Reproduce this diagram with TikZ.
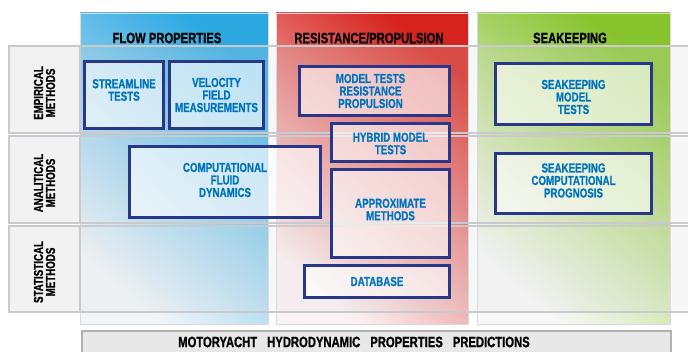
\documentclass[tikz,border=0pt]{standalone}
\usepackage{fontspec}
\newfontfamily\cond[FakeStretch=0.75,FakeBold=0.8]{Liberation Sans}
\usetikzlibrary{positioning}
\definecolor{boxblue}{RGB}{0,115,190}
\definecolor{navy}{RGB}{40,55,135}
\definecolor{flowdark}{RGB}{45,168,225}
\definecolor{flowlight}{RGB}{242,245,248}
\definecolor{resdark}{RGB}{215,35,30}
\definecolor{reslight}{RGB}{250,242,244}
\definecolor{seadark}{RGB}{135,195,45}
\definecolor{sealight}{RGB}{248,248,248}
\definecolor{rowgray}{RGB}{200,202,205}

\begin{document}
\begin{tikzpicture}[
    x=1pt, y=-1pt,
    column/.style={shading=axis, shading angle=-40, draw=rowgray!70, line width=0.8},
    rowband/.style={fill=gray!25, fill opacity=0.22, draw=rowgray, line width=1.5},
    rowcell/.style={fill=gray!10, draw=rowgray, line width=1.5},
    rowlabel/.style={rotate=90, align=center, font=\cond\bfseries\fontsize{13}{12}\selectfont},
    header/.style={font=\cond\bfseries\fontsize{15}{15}\selectfont},
    method/.style={rectangle, draw=navy, line width=2.8, fill=white, fill opacity=0.62, inner sep=0pt},
    boxtext/.style={align=center, text=boxblue, inner sep=0pt, font=\cond\bfseries\fontsize{13}{12.5}\selectfont},
    result/.style={rectangle, draw=gray!60, line width=2.2, fill=gray!18, inner sep=0pt},
]
\useasboundingbox (0,0) rectangle (688,352);
\clip (0,0) rectangle (688,352);
\fill[white] (0,0) rectangle (688,352);

% Property columns
\shade[column, top color=flowdark, bottom color=flowlight, shading angle=-40] (80,13) rectangle (268,324);
\shade[column, top color=resdark, bottom color=reslight, shading angle=-40] (276,13) rectangle (468,324);
\shade[column, top color=seadark, bottom color=sealight, shading angle=-40] (477,13) rectangle (670,324);

% Method rows
\draw[rowband] (9,46) rectangle (700,133);
\draw[rowband] (9,136) rectangle (700,223);
\draw[rowband] (9,226) rectangle (700,312);
\draw[rowcell] (9,46) rectangle (80,133);
\draw[rowcell] (9,136) rectangle (80,223);
\draw[rowcell] (9,226) rectangle (80,312);

% Row labels
\node[rowlabel] (empirical) at (44.5,93) {EMPIRICAL\\METHODS};
\node[rowlabel] (analitical) at (44.5,183) {ANALITICAL\\METHODS};
\node[rowlabel] (statistical) at (44.5,272) {STATISTICAL\\METHODS};

% Column headers
\node[header] (flowhead) at (167,38) {FLOW PROPERTIES};
\node[header] (reshead) at (369,38) {RESISTANCE/PROPULSION};
\node[header] (seahead) at (570,38) {SEAKEEPING};

% Flow properties methods
\node[method, minimum width=79, minimum height=67,
    label={[boxtext, yshift=5pt]center:STREAMLINE\\TESTS}] (stream) at (124,95) {};
\node[method, minimum width=94, minimum height=67,
    label={[boxtext]center:VELOCITY\\FIELD\\MEASUREMENTS}] (velocity) at (216.5,95) {};
\node[method, minimum width=191, minimum height=71,
    label={[boxtext, yshift=2pt]center:COMPUTATIONAL\\FLUID\\DYNAMICS}] (cfd) at (225,182) {};

% Resistance / propulsion methods
\node[method, minimum width=150, minimum height=49,
    label={[boxtext, xshift=-4pt]center:MODEL TESTS\\RESISTANCE\\PROPULSION}] (modeltests) at (374.5,91) {};
\node[method, minimum width=118, minimum height=38,
    label={[boxtext, yshift=-1pt]center:HYBRID MODEL\\TESTS}] (hybrid) at (390.5,142.5) {};
\node[method, minimum width=118, minimum height=88,
    label={[boxtext, yshift=4pt]center:APPROXIMATE\\METHODS}] (approx) at (390.5,213.5) {};
\node[method, minimum width=145, minimum height=32,
    label={[boxtext]center:DATABASE}] (database) at (377,281.5) {};

% Seakeeping methods
\node[method, minimum width=156, minimum height=61,
    label={[boxtext, yshift=-3pt]center:SEAKEEPING\\MODEL\\TESTS}] (seamodel) at (573.5,94) {};
\node[method, minimum width=156, minimum height=60,
    label={[boxtext, yshift=3pt]center:SEAKEEPING\\COMPUTATIONAL\\PROGNOSIS}] (seacomp) at (573.5,183.5) {};

% Result bar
\node[result, minimum width=589, minimum height=32, anchor=north west] (predict) at (81,330) {};
\node[font=\cond\bfseries\fontsize{15}{15}\selectfont] (predtext) at (354,342)
    {MOTORYACHT\hspace{10pt}HYDRODYNAMIC\hspace{10pt}PROPERTIES\hspace{10pt}PREDICTIONS};

\end{tikzpicture}
\end{document}
